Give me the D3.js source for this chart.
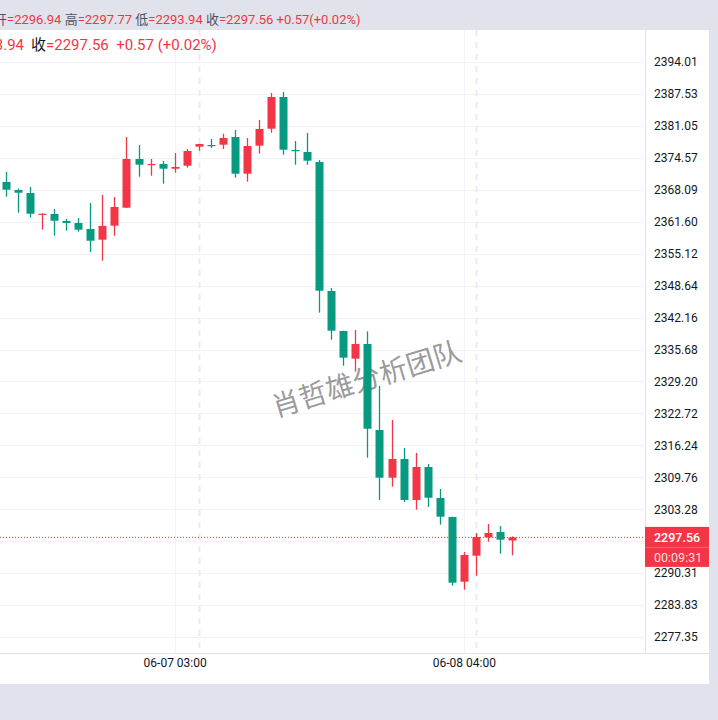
<!DOCTYPE html>
<html><head><meta charset="utf-8">
<script src="https://cdn.jsdelivr.net/npm/d3@7"></script>
<style>
html,body{margin:0;padding:0;background:#e0e3eb;}
svg{display:block;font-family:Roboto,"Noto Sans CJK SC",sans-serif;}
</style></head>
<body>
<svg id="c" width="718" height="720"></svg>
<script>
const opens  = [2369.66,2368.04,2367.43,2363.03,2363.17,2361.75,2361.35,2360.13,2357.96,2360.80,2364.45,2374.33,2373.11,2373.32,2372.36,2372.97,2376.83,2377.17,2377.23,2378.79,2371.35,2377.03,2380.48,2386.91,2376.16,2375.75,2373.72,2347.55,2339.44,2333.82,2336.80,2319.35,2309.67,2313.47,2305.15,2311.84,2305.55,2301.70,2288.57,2293.85,2297.57,2298.66,2296.94];
const highs  = [2371.69,2368.31,2368.65,2363.30,2364.19,2362.16,2362.36,2365.40,2367.03,2366.62,2378.79,2377.17,2374.33,2373.92,2375.55,2376.36,2377.40,2378.39,2379.46,2380.21,2378.59,2382.24,2387.72,2387.92,2377.98,2379.61,2374.13,2348.16,2339.50,2339.64,2339.37,2328.28,2321.38,2315.70,2314.68,2312.45,2307.38,2301.75,2294.60,2298.45,2300.28,2299.87,2297.77];
const lows   = [2366.68,2363.44,2362.42,2359.99,2358.77,2359.78,2359.58,2355.46,2353.70,2358.77,2364.40,2370.74,2370.94,2369.32,2371.55,2372.57,2376.01,2376.56,2376.36,2370.54,2369.73,2375.41,2379.67,2375.20,2373.17,2373.17,2343.15,2337.67,2332.40,2331.18,2313.73,2305.15,2307.85,2304.74,2303.18,2303.73,2300.14,2287.76,2286.95,2289.79,2296.69,2294.25,2293.94];
const closes = [2368.10,2367.49,2363.23,2363.23,2361.81,2361.35,2359.99,2357.75,2360.74,2364.59,2374.33,2373.17,2373.32,2372.36,2372.71,2375.95,2377.37,2376.97,2378.59,2371.35,2376.97,2380.42,2386.91,2376.22,2376.01,2373.99,2347.61,2339.50,2334.02,2336.80,2319.61,2309.67,2313.47,2305.15,2311.84,2305.61,2301.76,2288.37,2293.99,2297.64,2298.45,2297.09,2297.56];
const priceTicks = ["2394.01","2387.53","2381.05","2374.57","2368.09","2361.60","2355.12","2348.64","2342.16","2335.68","2329.20","2322.72","2316.24","2309.76","2303.28","2296.80","2290.31","2283.83","2277.35"];
const hiddenTick = "2296.80";
const timeTickIndex = [14, 38];
const timeTickLabels = ["06-07 03:00", "06-08 04:00"];
const sessionIndex = [16, 39];
const lastPrice = "2297.56";
const countdown = "00:09:31";
const headerTop = [["开","=2296.94 "],["高","=2297.77 "],["低","=2293.94 "],["收","=2297.56 +0.57(+0.02%)"]];
const watermark = "肖哲雄分析团队";

const UP = "#f23645", DOWN = "#089981", GRID = "#f0f3fa", TXT = "#131722";
const svg = d3.select("#c");
const PX0 = 0, PX1 = 709, PY0 = 30, PY1 = 684, AX = 645, AY = 653;

svg.append("rect").attr("x", PX0).attr("y", PY0).attr("width", PX1 - PX0).attr("height", PY1 - PY0).attr("fill", "#fff");

const y = d3.scaleLinear().domain([2394.01, 2277.35]).range([62, 637]);
const x = d3.scaleLinear().domain([0, 42]).range([6, 512]);

const clip = svg.append("defs").append("clipPath").attr("id", "pc");
clip.append("rect").attr("x", 0).attr("y", PY0).attr("width", AX).attr("height", AY - PY0);
const plot = svg.append("g").attr("clip-path", "url(#pc)");

plot.selectAll("line.hg").data(priceTicks).join("line")
  .attr("x1", 0).attr("x2", AX)
  .attr("y1", d => Math.round(y(+d)) + 0.5).attr("y2", d => Math.round(y(+d)) + 0.5)
  .attr("stroke", GRID).attr("stroke-width", 1);
plot.selectAll("line.vg").data(timeTickIndex).join("line")
  .attr("x1", d => Math.round(x(d)) + 0.5).attr("x2", d => Math.round(x(d)) + 0.5)
  .attr("y1", PY0).attr("y2", AY).attr("stroke", GRID);
plot.selectAll("line.sg").data(sessionIndex).join("line")
  .attr("x1", d => Math.round(x(d)) + 0.5).attr("x2", d => Math.round(x(d)) + 0.5)
  .attr("y1", PY0).attr("y2", AY).attr("stroke", "#e9ebf0").attr("stroke-width", 2)
  .attr("stroke-dasharray", "6,6");

plot.append("text").attr("transform", "translate(366,377) rotate(-17)")
  .attr("text-anchor", "middle").attr("dominant-baseline", "central")
  .attr("font-family", "'Noto Sans CJK SC'").attr("font-size", 28)
  .attr("fill", "#7f7f7f").attr("fill-opacity", 0.8).text(watermark);

const idx = d3.range(opens.length);
const cg = plot.selectAll("g.c").data(idx).join("g");
cg.append("line")
  .attr("x1", i => Math.round(x(i)) + 0.5).attr("x2", i => Math.round(x(i)) + 0.5)
  .attr("y1", i => y(highs[i])).attr("y2", i => y(lows[i]))
  .attr("stroke", i => closes[i] >= opens[i] ? UP : DOWN).attr("stroke-width", 1.3);
cg.append("rect")
  .attr("x", i => Math.round(x(i)) + 0.5 - 4).attr("width", 8)
  .attr("y", i => y(Math.max(opens[i], closes[i])))
  .attr("height", i => Math.max(1.2, y(Math.min(opens[i], closes[i])) - y(Math.max(opens[i], closes[i]))))
  .attr("fill", i => closes[i] >= opens[i] ? UP : DOWN);

plot.append("line").attr("x1", 0).attr("x2", AX)
  .attr("y1", y(+lastPrice)).attr("y2", y(+lastPrice))
  .attr("stroke", UP).attr("stroke-width", 1).attr("stroke-dasharray", "1,2");

svg.append("line").attr("x1", AX + 0.5).attr("x2", AX + 0.5).attr("y1", PY0).attr("y2", AY).attr("stroke", "#e0e3eb");
svg.append("line").attr("x1", 0).attr("x2", PX1).attr("y1", AY + 0.5).attr("y2", AY + 0.5).attr("stroke", "#e0e3eb");

const shownTicks = priceTicks.filter(t => t !== hiddenTick);
const yAxis = d3.axisRight(y).tickValues(shownTicks.map(Number)).tickSize(0).tickPadding(9)
  .tickFormat((d, i) => shownTicks[i]);
const yg = svg.append("g").attr("transform", `translate(${AX},0)`).call(yAxis);
yg.select(".domain").remove();
yg.selectAll("text").attr("font-size", 12).attr("fill", TXT).attr("font-family", "Roboto");

const xAxis = d3.axisBottom(x).tickValues(timeTickIndex).tickSize(0).tickPadding(0)
  .tickFormat((d, i) => timeTickLabels[i]);
const xg = svg.append("g").attr("transform", `translate(0,${AY})`).call(xAxis);
xg.select(".domain").remove();
xg.selectAll("text").attr("font-size", 12).attr("fill", TXT).attr("font-family", "Roboto")
  .attr("dy", null).attr("y", 10).attr("dominant-baseline", "central");

const ly = y(+lastPrice);
svg.append("rect").attr("x", AX).attr("y", ly - 10.5).attr("width", PX1 - AX).attr("height", 40).attr("fill", UP);
svg.append("line").attr("x1", AX).attr("x2", PX1).attr("y1", ly + 10).attr("y2", ly + 10).attr("stroke", "#f56673").attr("stroke-width", 1);
svg.append("text").attr("x", AX + 9).attr("y", ly).attr("dominant-baseline", "central")
  .attr("font-size", 12.5).attr("font-weight", 500).attr("fill", "#fff").text(lastPrice);
svg.append("text").attr("x", AX + 9).attr("y", ly + 20).attr("dominant-baseline", "central")
  .attr("font-size", 12.5).attr("fill", "#fff").attr("fill-opacity", 0.85).text(countdown);

const ht = svg.append("text").attr("x", -6).attr("y", 19).attr("dominant-baseline", "central")
  .attr("font-size", 13).attr("font-family", "Roboto,'Noto Sans CJK SC'");
headerTop.forEach(([k, v]) => {
  ht.append("tspan").attr("fill", "#50535e").text(k);
  ht.append("tspan").attr("fill", UP).text(v);
});

const h2 = svg.append("text").attr("x", 24).attr("y", 45).attr("text-anchor", "end").attr("dominant-baseline", "central")
  .attr("font-size", 15).attr("font-family", "Roboto,'Noto Sans CJK SC'");
h2.append("tspan").attr("fill", TXT).text("低");
h2.append("tspan").attr("fill", UP).text("=2293.94");
const h3 = svg.append("text").attr("x", 31).attr("y", 45).attr("dominant-baseline", "central")
  .attr("font-size", 15).attr("font-family", "Roboto,'Noto Sans CJK SC'");
h3.append("tspan").attr("fill", TXT).text("收");
h3.append("tspan").attr("fill", UP).text("=2297.56\u00a0\u00a0+0.57 (+0.02%)");
</script>
</body></html>
